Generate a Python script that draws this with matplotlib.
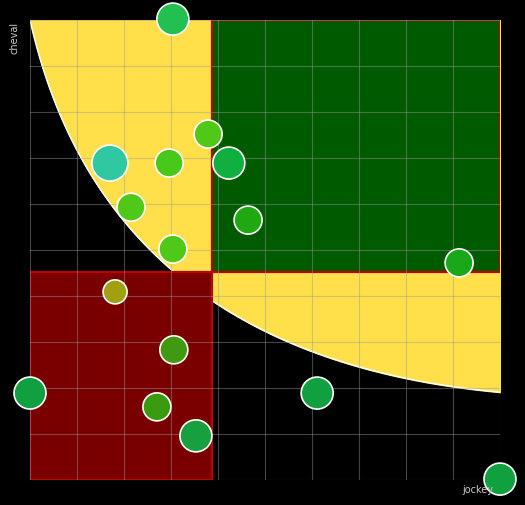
import numpy as np
import matplotlib
matplotlib.use("Agg")
import matplotlib.pyplot as plt
from matplotlib.patches import Rectangle

# data
xs = [3.04, 1.70, 2.96, 3.79, 4.23, 2.15, 4.64, 3.04, 9.13, 1.81, 3.06, 0.00, 2.70, 3.53, 6.11, 10.0]
ys = [10.02, 6.89, 6.89, 7.52, 6.89, 5.93, 5.65, 5.02, 4.72, 4.09, 2.83, 1.89, 1.59, 0.96, 1.89, 0.02]
radii = [16, 18, 14, 14, 16, 14, 14, 14, 14, 12, 14, 16, 14, 16, 16, 16]
colors = ["#22c050", "#30c8a0", "#48c818", "#50c818", "#10b040", "#50c818", "#20a810", "#50c818",
          "#18a818", "#a0a010", "#409a10", "#10a040", "#3a9a10", "#18a040", "#10a040", "#10a040"]
x_split, y_split = 3.87, 4.52
curve_ctrl = [(0, 10), (1.6, 2.7), (10, 1.91)]

fig = plt.figure(figsize=(5.25, 5.05), dpi=100, facecolor="black")
ax = fig.add_axes([30/525, 25/505, 470/525, 460/505])
ax.set_facecolor("black")
ax.set_xlim(0, 10); ax.set_ylim(0, 10)

t = np.linspace(0, 1, 200)
(p0, c, p2) = [np.array(p) for p in curve_ctrl]
bx = (1-t)**2*p0[0] + 2*t*(1-t)*c[0] + t**2*p2[0]
by = (1-t)**2*p0[1] + 2*t*(1-t)*c[1] + t**2*p2[1]
ax.fill_between(bx, by, 10, color="#ffe04a", zorder=1)
ax.plot(bx, by, color="white", lw=1, zorder=1.5)
ax.add_patch(Rectangle((x_split, y_split), 10 - x_split, 10 - y_split, facecolor="#005a00",
                       edgecolor="#c00000", lw=1.5, zorder=2))
ax.add_patch(Rectangle((0, 0), x_split, y_split, facecolor="#7a0000",
                       edgecolor="#c00000", lw=1.5, zorder=2))
ax.plot([x_split, x_split], [y_split, 10], color="#c00000", lw=1.5, zorder=2.5)
ax.plot([0, 10], [y_split, y_split], color="#c00000", lw=1.5, zorder=2.5)

for v in np.arange(0, 11):
    ax.axvline(v, color="#999999", lw=0.8, alpha=0.45, zorder=3)
    ax.axhline(v, color="#999999", lw=0.8, alpha=0.45, zorder=3)

sizes = [(2*r*0.72)**2 for r in radii]
ax.scatter(xs, ys, s=sizes, c=colors, edgecolors="white", linewidths=1.2, zorder=5, clip_on=False)

for s in ax.spines.values():
    s.set_visible(False)
ax.set_xticks([]); ax.set_yticks([])
fig.text(15/525, 1 - 38/505, "cheval", color="#cccccc", fontsize=7, rotation=90, ha="center", va="center")
fig.text(478/525, 1 - 490/505, "jockey", color="#cccccc", fontsize=7, ha="center", va="center")
fig.savefig("out.png", dpi=100, facecolor="black")
